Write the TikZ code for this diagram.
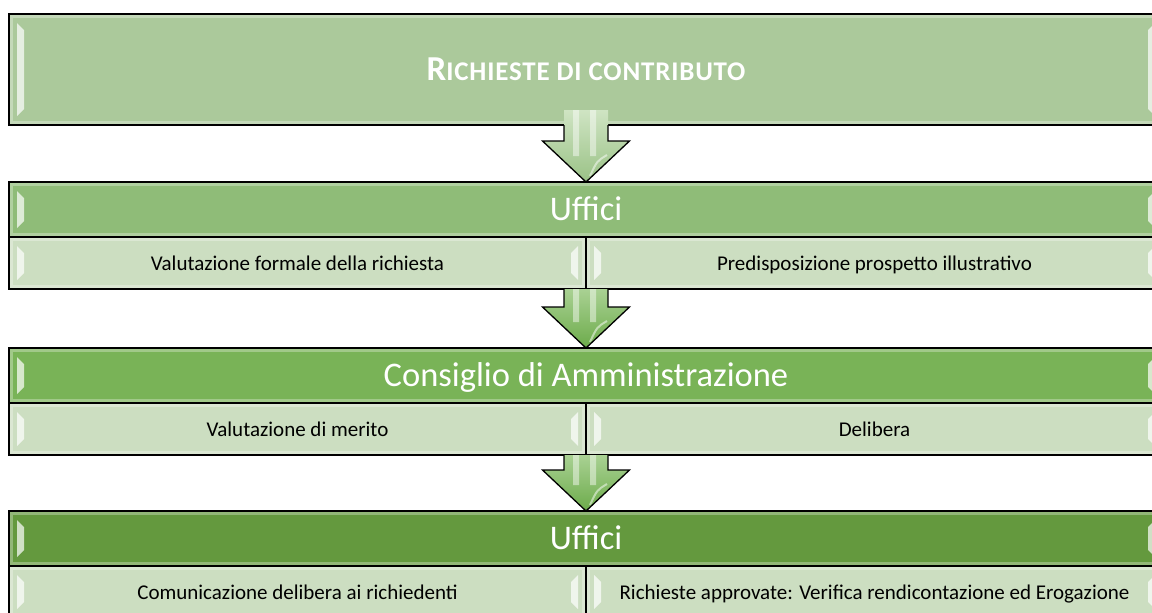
\documentclass[tikz,border=0pt]{standalone}
\usepackage{fontspec}
\setmainfont{Carlito}
\usetikzlibrary{calc}
\definecolor{cone}{HTML}{ABC99B}
\definecolor{ctwo}{HTML}{8FBC78}
\definecolor{cthree}{HTML}{79B357}
\definecolor{cfour}{HTML}{64993E}
\definecolor{crow}{HTML}{CCDEC1}
\definecolor{aonetop}{HTML}{CFE4C3}
\definecolor{aonebot}{HTML}{9AC286}
\definecolor{atwotop}{HTML}{A9D193}
\definecolor{atwobot}{HTML}{6CAB4A}
\tikzset{
  panel/.style={draw=black, line width=1.3pt, inner sep=0pt, outer sep=0pt, anchor=north west},
  boxframe/.style={panel, minimum width=1154pt},
  header/.style={panel, fill=#1, text=white, minimum width=1154pt, minimum height=55pt,
    font=\fontsize{34.5}{34.5}\selectfont, text height=24pt, text depth=3pt},
  cell/.style={panel, fill=crow, text=black, minimum width=577pt, minimum height=52pt,
    font=\fontsize{21}{21}\selectfont, text height=15pt, text depth=1pt},
  arrowoutline/.style={draw=black, line width=1.3pt, line join=miter},
}
\newcommand\bevel[1]{%
  \fill[white, opacity=0.7] let \p1=(#1.north west), \p2=(#1.south east) in
    (\x1+8pt,\y1-9pt) -- (\x1+15pt,\y1-16pt) -- (\x1+15pt,\y2+16pt) -- (\x1+8pt,\y2+9pt) -- cycle
    (\x2-8pt,\y1-9pt) -- (\x2-15pt,\y1-16pt) -- (\x2-15pt,\y2+16pt) -- (\x2-8pt,\y2+9pt) -- cycle;
  \draw[white, opacity=0.3, line width=2.5pt] let \p1=(#1.north west), \p2=(#1.south east) in
    (\x1+2.5pt,\y1-2.5pt) rectangle (\x2-2.5pt,\y2+2.5pt);
}
% #1 source node, #2 target node, #3 overlap above source, #4 top colour, #5 bottom colour
\newcommand\flowarrow[5]{%
  \path[top color=#4, bottom color=#5] let \p1=(#1.south), \p2=(#2.north) in
    (\x1-22pt,\y1+#3) -- (\x1+22pt,\y1+#3) -- (\x1+22pt,\y2+41pt) -- (\x1+43.5pt,\y2+41pt)
    -- (\x1,\y2) -- (\x1-43.5pt,\y2+41pt) -- (\x1-22pt,\y2+41pt) -- cycle;
  \fill[white, opacity=0.45] let \p1=(#1.south), \p2=(#2.north) in
    (\x1-13pt,\y1+#3) rectangle (\x1-7pt,\y2+26pt)
    (\x1+4pt,\y1+#3) rectangle (\x1+10pt,\y2+26pt);
  \draw[white, opacity=0.5, line width=2pt] let \p1=(#1.south), \p2=(#2.north) in
    (\x1+21pt,\y2+27pt) .. controls (\x1+11pt,\y2+21pt) .. (\x1+4pt,\y2+6pt);
  \draw[arrowoutline] let \p1=(#1.south), \p2=(#2.north) in
    (\x1-22pt,\y1) -- (\x1-22pt,\y2+41pt) -- (\x1-43.5pt,\y2+41pt) -- (\x1,\y2)
    -- (\x1+43.5pt,\y2+41pt) -- (\x1+22pt,\y2+41pt) -- (\x1+22pt,\y1);
}
\begin{document}
\begin{tikzpicture}[x=1pt, y=-1pt]
\useasboundingbox (0,0) rectangle (1152,613);
\clip (0,0) rectangle (1152,613);
\fill[white] (0,0) rectangle (1152,613);

% box 1
\node[boxframe, fill=cone, minimum height=111pt, text=white, text height=24pt, text depth=3pt] (box1) at (9,14)
  {\bfseries\addfontfeature{LetterSpace=3}\fontsize{35}{35}\selectfont R\fontsize{27}{27}\selectfont ICHIESTE DI CONTRIBUTO};
\bevel{box1}

% box 2
\node[header=ctwo] (h2) at (9,182) {Uffici};
\node[cell] (r2a) at (9,237) {Valutazione formale della richiesta};
\node[cell] (r2b) at (586,237) {Predisposizione prospetto illustrativo};
\node[boxframe, minimum height=107pt] (box2) at (9,182) {};
\bevel{h2}\bevel{r2a}\bevel{r2b}

% box 3
\node[header=cthree] (h3) at (9,348) {Consiglio di Amministrazione};
\node[cell] (r3a) at (9,403) {Valutazione di merito};
\node[cell] (r3b) at (586,403) {Delibera};
\node[boxframe, minimum height=107pt] (box3) at (9,348) {};
\bevel{h3}\bevel{r3a}\bevel{r3b}

% box 4
\node[header=cfour] (h4) at (9,511) {Uffici};
\node[cell] (r4a) at (9,566) {Comunicazione delibera ai richiedenti};
\node[cell] (r4b) at (586,566) {Richieste approvate: Verifica rendicontazione ed Erogazione};
\node[boxframe, minimum height=107pt] (box4) at (9,511) {};
\bevel{h4}\bevel{r4a}\bevel{r4b}

% arrows
\flowarrow{box1}{box2}{15pt}{aonetop}{aonebot}
\flowarrow{box2}{box3}{0pt}{atwotop}{atwobot}
\flowarrow{box3}{box4}{0pt}{atwotop}{atwobot}
\end{tikzpicture}
\end{document}
